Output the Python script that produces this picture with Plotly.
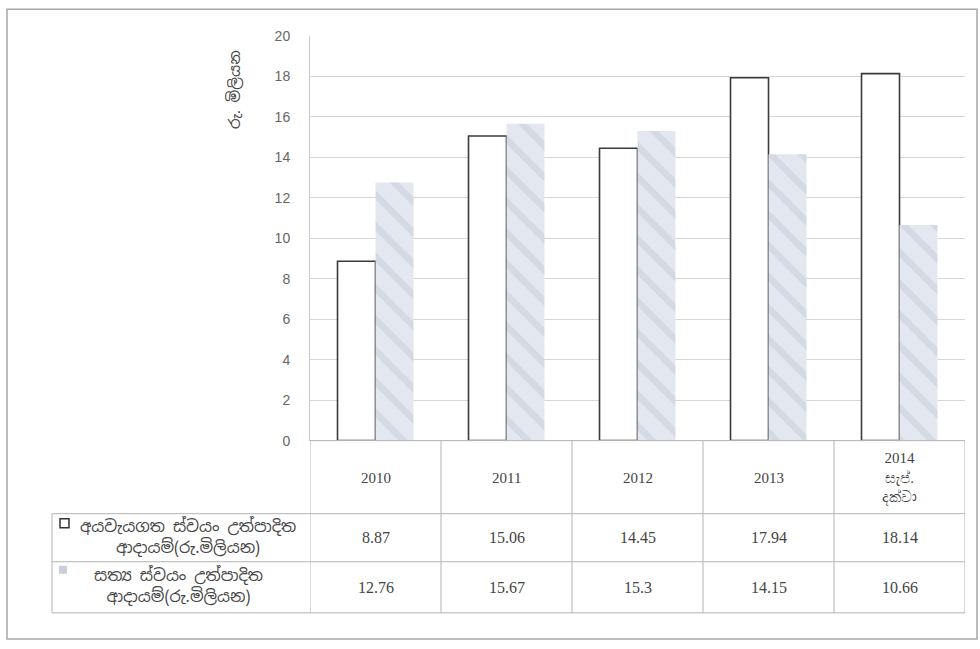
import plotly.graph_objects as go

W, H = 980, 649

years = ["2010", "2011", "2012", "2013", "2014"]
year_labels = ["2010", "2011", "2012", "2013", "2014<br>සැප්.<br>දක්වා"]
budgeted = [8.87, 15.06, 14.45, 17.94, 18.14]
actual = [12.76, 15.67, 15.3, 14.15, 10.66]
budgeted_name = "අයවැයගත ස්වයං උත්පාදිත ආදායම්(රු.මිලියන)"
actual_name = "සත්‍ය ස්වයං උත්පාදිත ආදායම්(රු.මිලියන)"
budgeted_label = "අයවැයගත ස්වයං උත්පාදිත<br>ආදායම්(රු.මිලියන)"
actual_label = "සත්‍ය ස්වයං උත්පාදිත<br>ආදායම්(රු.මිලියන)"
y_title = "රු. මිලියන"
y_ticks = [0, 2, 4, 6, 8, 10, 12, 14, 16, 18, 20]


def px_x(p):
    return p / W


def px_y(p):
    r = (p - 8) / 0.974
    return min(1.0, max(0.0, 1 - r / H))


SIN_FONT = "Noto Sans Sinhala, Noto Sans, DejaVu Sans, sans-serif"
SERIF = "Liberation Serif, DejaVu Serif, serif"

fig = go.Figure()
fig.add_trace(go.Bar(
    x=years, y=budgeted, name=budgeted_name,
    marker=dict(color="white", line=dict(color="#3a3a3a", width=1.6)),
))
fig.add_trace(go.Bar(
    x=years, y=actual, name=actual_name,
    marker=dict(color="#e0e5ed", line=dict(width=0),
                pattern=dict(shape="\\", fgcolor="#c3cbd8", bgcolor="#e3e8f0",
                             size=22, solidity=0.3)),
))

y_bottom = px_y(440)
y_top = px_y(36)
fig.update_layout(
    width=W, height=H,
    margin=dict(l=0, r=0, t=0, b=0),
    paper_bgcolor="white", plot_bgcolor="white",
    showlegend=False,
    barmode="group", bargap=0.42, bargroupgap=0.0,
    xaxis=dict(domain=[px_x(310), px_x(965)], showticklabels=False,
               showgrid=False, zeroline=False, showline=False,
               range=[-0.5, 4.5]),
    yaxis=dict(domain=[y_bottom, y_top], range=[0, 20], tickvals=y_ticks,
               showgrid=True, gridcolor="#d6d6d6", gridwidth=1,
               zeroline=False, showline=True, linecolor="#c8c8c8",
               ticks="", ticklabelstandoff=16,
               tickfont=dict(family="Liberation Sans, Arial, sans-serif",
                             size=14, color="#666666")),
)

line_col = "#b3b3b3"
shapes = []
shapes.append(dict(type="rect", xref="paper", yref="paper",
                   x0=px_x(7), x1=px_x(977), y0=0.003, y1=0.998,
                   line=dict(color="#a8a8a8", width=1.5)))
row_y = [440, 513, 561, 612]
for i, ry in enumerate(row_y):
    shapes.append(dict(type="line", xref="paper", yref="paper",
                       x0=px_x(310 if i == 0 else 52), x1=px_x(965),
                       y0=px_y(ry), y1=px_y(ry),
                       line=dict(color=line_col, width=1)))
for k in range(len(years) + 1):
    shapes.append(dict(type="line", xref="x", yref="paper",
                       x0=k - 0.5, x1=k - 0.5, y0=px_y(612), y1=px_y(440),
                       line=dict(color=line_col, width=1)))
shapes.append(dict(type="line", xref="paper", yref="paper",
                   x0=px_x(52), x1=px_x(52), y0=px_y(612), y1=px_y(513),
                   line=dict(color=line_col, width=1)))
shapes.append(dict(type="rect", xref="paper", yref="paper",
                   x0=px_x(60), x1=px_x(69), y0=px_y(527), y1=px_y(518),
                   line=dict(color="#333333", width=1.5), fillcolor="white"))
shapes.append(dict(type="rect", xref="paper", yref="paper",
                   x0=px_x(59), x1=px_x(67), y0=px_y(573), y1=px_y(565),
                   line=dict(width=0), fillcolor="#c9d0db"))
fig.update_layout(shapes=shapes)

ann = []
for i, lab in enumerate(year_labels):
    ann.append(dict(x=i, y=px_y(477), xref="x", yref="paper", text=lab,
                    showarrow=False, align="center",
                    xanchor="center", yanchor="middle",
                    font=dict(family=SERIF, size=15, color="#444444")))
    ann.append(dict(x=i, y=px_y(537), xref="x", yref="paper",
                    text=f"{budgeted[i]:g}", showarrow=False,
                    xanchor="center", yanchor="middle",
                    font=dict(family=SERIF, size=16, color="#444444")))
    ann.append(dict(x=i, y=px_y(587), xref="x", yref="paper",
                    text=f"{actual[i]:g}", showarrow=False,
                    xanchor="center", yanchor="middle",
                    font=dict(family=SERIF, size=16, color="#444444")))
ann.append(dict(x=px_x(188), y=px_y(536), xref="paper", yref="paper",
                text=budgeted_label, showarrow=False, align="center",
                xanchor="center", yanchor="middle",
                font=dict(family=SIN_FONT, size=16, color="#444444")))
ann.append(dict(x=px_x(178), y=px_y(585), xref="paper", yref="paper",
                text=actual_label, showarrow=False, align="center",
                xanchor="center", yanchor="middle",
                font=dict(family=SIN_FONT, size=16, color="#444444")))
ann.append(dict(x=px_x(234), y=px_y(90), xref="paper", yref="paper",
                text=y_title, showarrow=False, textangle=-90,
                xanchor="center", yanchor="middle",
                font=dict(family=SIN_FONT, size=15, color="#444444")))
fig.update_layout(annotations=ann)

post = (
    "document.documentElement.style.margin='0';"
    "document.documentElement.style.overflow='hidden';"
    "document.body.style.margin='0';"
    "document.body.style.padding='0';"
    "document.body.style.overflow='hidden';"
    "var gd=document.getElementById('{plot_id}');"
    "gd.style.position='absolute';gd.style.left='0px';gd.style.top='0px';"
)
fig.write_html("out.html", post_script=post,
               config={"displayModeBar": False, "staticPlot": True})
